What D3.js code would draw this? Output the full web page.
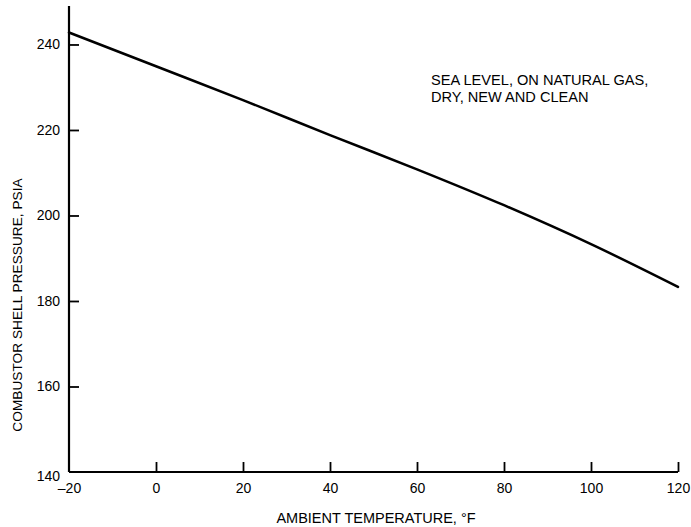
<!DOCTYPE html>
<html>
<head>
<meta charset="utf-8">
<script src="https://cdn.jsdelivr.net/npm/d3@7"></script>
<style>
  body { margin: 0; background: #fff; }
  svg { display: block; font-family: Arial, "Liberation Sans", Helvetica, sans-serif; }
  .tick text { font-size: 14px; fill: #000; }
</style>
</head>
<body>
<svg class="chart" width="691" height="527"></svg>
<script>
// values
const temps = [-20, 0, 20, 40, 60, 80, 100, 120];
const pressure = [242.8, 234.9, 227.0, 218.8, 210.8, 202.4, 193.3, 183.3];
const xTicks = [-20, 0, 20, 40, 60, 80, 100, 120];
const yTicks = [140, 160, 180, 200, 220, 240];
const note = ['SEA LEVEL, ON NATURAL GAS,', 'DRY, NEW AND CLEAN'];

const svg = d3.select('.chart');

const x = d3.scaleLinear().domain([-20, 120]).range([69, 678]);
const y = d3.scaleLinear().domain([140, 249]).range([472, 6]);

const data = temps.map((t, i) => ({ t: t, p: pressure[i] }));

// x axis, ticks pointing up
const xAxis = svg.append('g')
  .attr('transform', 'translate(0,' + y(140) + ')')
  .call(d3.axisBottom(x)
    .tickValues(xTicks)
    .tickSize(-10)
    .tickPadding(11)
    .tickFormat(d => d < 0 ? '\u2013' + Math.abs(d) : d));
xAxis.select('.domain').attr('stroke', '#000').attr('stroke-width', 2.2)
  .attr('d', 'M' + x(-20) + ',0H' + x(120));
xAxis.selectAll('.tick line').attr('stroke', '#000').attr('stroke-width', 1.8);
xAxis.selectAll('.tick').filter(d => d === -20).select('line').remove();

// y axis, ticks pointing right
const yAxis = svg.append('g')
  .attr('transform', 'translate(' + x(-20) + ',0)')
  .call(d3.axisLeft(y)
    .tickValues(yTicks)
    .tickSize(-10)
    .tickPadding(9));
yAxis.select('.domain').attr('stroke', '#000').attr('stroke-width', 2.2)
  .attr('d', 'M0,' + y(249) + 'V' + y(140));
yAxis.selectAll('.tick line').attr('stroke', '#000').attr('stroke-width', 1.8);
yAxis.selectAll('.tick').filter(d => d === 140).select('line').remove();
yAxis.selectAll('.tick').filter(d => d === 140).select('text').attr('dy', '0.6em');

// curve
const line = d3.line()
  .curve(d3.curveMonotoneX)
  .x(d => x(d.t))
  .y(d => y(d.p));

svg.append('path')
  .datum(data)
  .attr('fill', 'none')
  .attr('stroke', '#000')
  .attr('stroke-width', 2.5)
  .attr('stroke-linecap', 'round')
  .attr('d', line);

// axis titles
svg.append('text')
  .attr('x', 376)
  .attr('y', 523)
  .attr('text-anchor', 'middle')
  .attr('font-size', 14.5)
  .text('AMBIENT TEMPERATURE, \u00B0F');

svg.append('text')
  .attr('transform', 'translate(22,305) rotate(-90)')
  .attr('text-anchor', 'middle')
  .attr('font-size', 13.7)
  .text('COMBUSTOR SHELL PRESSURE, PSIA');

// note
svg.append('g')
  .selectAll('text')
  .data(note)
  .join('text')
  .attr('x', 431)
  .attr('y', (d, i) => 85 + i * 17)
  .attr('font-size', 14.6)
  .text(d => d);
</script>
</body>
</html>
